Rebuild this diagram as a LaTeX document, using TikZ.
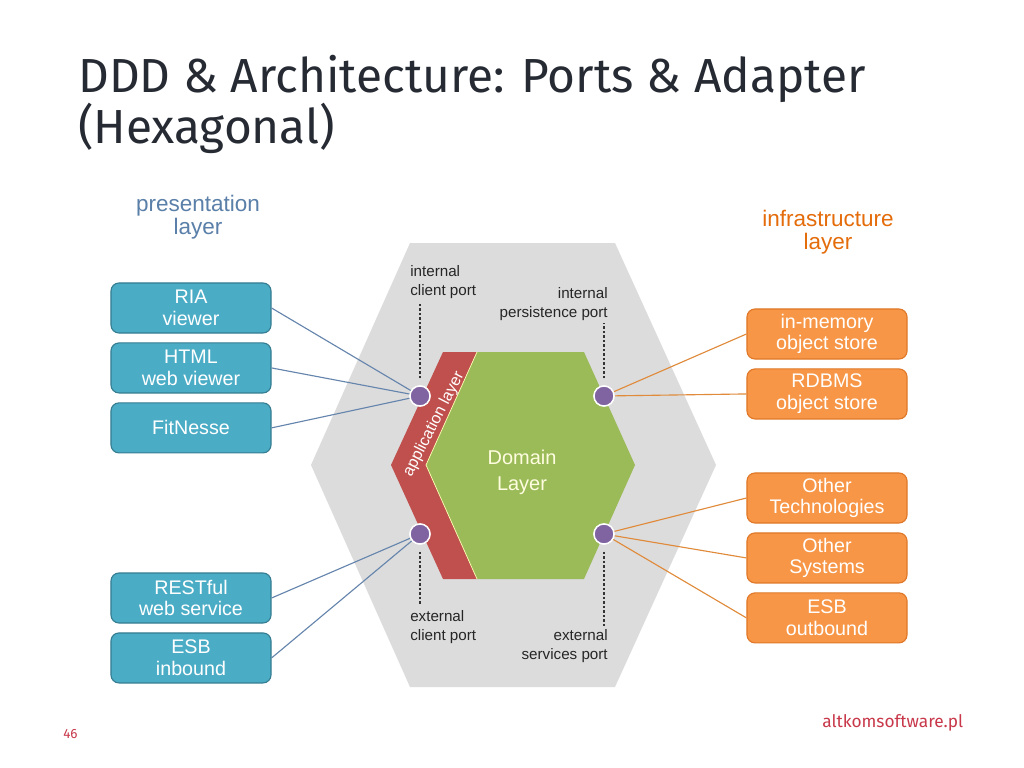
\documentclass[tikz,border=0pt]{standalone}
\usepackage{fontspec}
\setmainfont{Liberation Sans}
\newfontfamily\firafont{Fira Sans}
\usetikzlibrary{positioning}

\definecolor{TitleInk}{HTML}{262A33}
\definecolor{HexGray}{HTML}{DCDCDC}
\definecolor{DomainGreen}{HTML}{9BBB59}
\definecolor{AppRed}{HTML}{C0504D}
\definecolor{PortPurple}{HTML}{8064A2}
\definecolor{PresFill}{HTML}{4BACC6}
\definecolor{PresEdge}{HTML}{357D91}
\definecolor{PresInk}{HTML}{5A7FA8}
\definecolor{PresLine}{HTML}{6585AD}
\definecolor{InfraFill}{HTML}{F79646}
\definecolor{InfraEdge}{HTML}{E0782A}
\definecolor{InfraInk}{HTML}{E46C0A}
\definecolor{InfraLine}{HTML}{E08A3A}
\definecolor{FootRed}{HTML}{C8384A}

\begin{document}
\begin{tikzpicture}[
  x=0.025cm, y=-0.025cm,
  node distance=0.22cm,
  presbox/.style={rectangle,rounded corners=0.2cm,draw=PresEdge,fill=PresFill,
                  line width=0.8pt,minimum width=4cm,minimum height=1.25cm,
                  inner sep=0pt,text=white,align=center,
                  font=\fontsize{14}{15.5}\selectfont},
  infrabox/.style={presbox,draw=InfraEdge,fill=InfraFill},
  port/.style={circle,fill=PortPurple,draw=white,line width=1pt,
               minimum size=0.5cm,inner sep=0pt},
  portlabel/.style={inner sep=0pt,text=black!85,
                    font=\fontsize{10.8}{14}\selectfont},
  portline/.style={line width=1.1pt,black!80,dash pattern=on 1.8pt off 1.4pt},
  presline/.style={PresLine,line width=0.8pt},
  infraline/.style={InfraLine,line width=0.8pt},
  heading/.style={align=center,inner sep=0pt,font=\fontsize{16}{16.5}\selectfont}
]
  \useasboundingbox[fill=white] (0,0) rectangle (1024,768);

  % title
  \node[anchor=base west,inner sep=0pt,align=left,text=TitleInk,
        font=\firafont\fontsize{34}{35}\selectfont] (title) at (78,144)
       {DDD \& Architecture: Ports \& Adapter\\(Hexagonal)};

  % hexagons
  \fill[HexGray] (410,243) -- (615,243) -- (716,465) -- (615,687)
                 -- (410,687) -- (311,465) -- cycle;
  \fill[AppRed] (443,352) -- (477,352) -- (426,465) -- (477,579)
                -- (443,579) -- (391,465) -- cycle;
  \fill[DomainGreen] (477,352) -- (584,352) -- (635,465) -- (584,579)
                     -- (477,579) -- (426,465) -- cycle;
  \draw[yellow!30!white,line width=0.5pt] (477,352) -- (426,465) -- (477,579);

  \node[rotate=63,text=white,inner sep=0pt,
        font=\fontsize{11.4}{12}\selectfont] (applayer) at (434,424) {application layer};
  \node[align=center,text=yellow!12!white,inner sep=0pt,
        font=\fontsize{14.2}{18.5}\selectfont] (domain) at (522,472) {Domain\\Layer};

  % ports
  \node[port] (icport) at (420,396) {};
  \node[port] (ipport) at (604,396) {};
  \node[port] (ecport) at (420,534) {};
  \node[port] (esport) at (604,534) {};

  \node[portlabel,anchor=west,align=left]  (iclabel) at (410,282) {internal\\client port};
  \node[portlabel,anchor=east,align=right] (iplabel) at (608,304) {internal\\persistence port};
  \node[portlabel,anchor=west,align=left]  (eclabel) at (410,627) {external\\client port};
  \node[portlabel,anchor=east,align=right] (eslabel) at (608,646) {external\\services port};

  \coordinate (icend) at (420,302);
  \coordinate (ipend) at (604,323);
  \coordinate (ecend) at (420,605);
  \coordinate (esend) at (604,627);
  \draw[portline,shorten <=5pt] (icport) -- (icend);
  \draw[portline,shorten <=5pt] (ipport) -- (ipend);
  \draw[portline,shorten <=5pt] (ecport) -- (ecend);
  \draw[portline,shorten <=5pt] (esport) -- (esend);

  % presentation layer
  \node[heading,text=PresInk] (preshead) at (198,217) {presentation\\layer};
  \node[presbox] (ria) at (191,308) {RIA\\viewer};
  \node[presbox,below=of ria] (html) {HTML\\web viewer};
  \node[presbox,below=of html] (fitnesse) {FitNesse};
  \node[presbox] (rest) at (191,598) {RESTful\\web service};
  \node[presbox,below=of rest] (esbin) {ESB\\inbound};

  % infrastructure layer
  \node[heading,text=InfraInk] (infrahead) at (828,232) {infrastructure\\layer};
  \node[infrabox] (inmem) at (827,334) {in-memory\\object store};
  \node[infrabox,below=of inmem] (rdbms) {RDBMS\\object store};
  \node[infrabox] (othertech) at (827,498) {Other\\Technologies};
  \node[infrabox,below=of othertech] (othersys) {Other\\Systems};
  \node[infrabox,below=of othersys] (esbout) {ESB\\outbound};

  % connectors
  \draw[presline] (ria.east) -- (icport);
  \draw[presline] (html.east) -- (icport);
  \draw[presline] (fitnesse.east) -- (icport);
  \draw[presline] (rest.east) -- (ecport);
  \draw[presline] (esbin.east) -- (ecport);
  \draw[infraline] (ipport) -- (inmem.west);
  \draw[infraline] (ipport) -- (rdbms.west);
  \draw[infraline] (esport) -- (othertech.west);
  \draw[infraline] (esport) -- (othersys.west);
  \draw[infraline] (esport) -- (esbout.west);

  % redraw ports on top of connectors
  \foreach \p in {icport,ipport,ecport,esport}
    \fill[PortPurple,draw=white,line width=1pt] (\p) circle (0.25cm);

  % footer
  \node[anchor=base west,inner sep=0pt,text=FootRed,
        font=\firafont\fontsize{9.5}{10}\selectfont] (pagenum) at (63,738) {46};
  \node[anchor=base west,inner sep=0pt,text=FootRed,
        font=\firafont\fontsize{12.3}{13}\selectfont] (site) at (822,727) {altkomsoftware.pl};
\end{tikzpicture}
\end{document}
